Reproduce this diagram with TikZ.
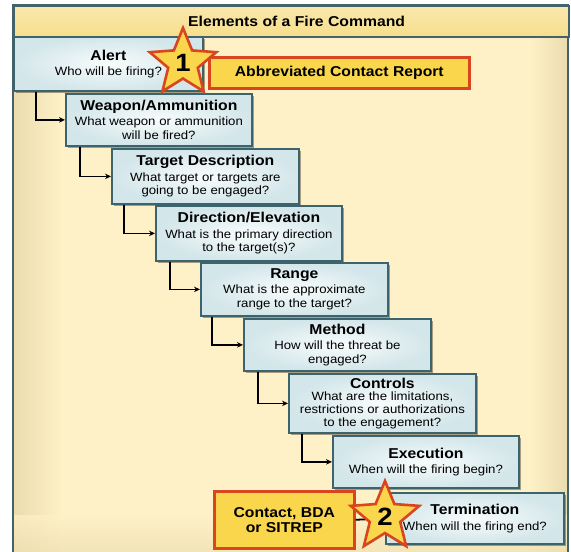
\documentclass[tikz,border=0pt]{standalone}
\usepackage{fontspec}
\setmainfont{Liberation Sans}[FakeStretch=1.1]
\usetikzlibrary{shapes.geometric,shadows,arrows.meta,calc}
\definecolor{frameC}{HTML}{43626B}
\definecolor{cream}{HTML}{FEF1C8}
\definecolor{creamD}{HTML}{EADCAC}
\definecolor{barC}{HTML}{F6DE8A}
\definecolor{boxIn}{HTML}{F8FCFC}
\definecolor{boxOut}{HTML}{D3E6EA}
\definecolor{boxLine}{HTML}{3D636C}
\definecolor{yel}{HTML}{F9D64C}
\definecolor{redO}{HTML}{D8451E}
\newcommand{\ttl}[1]{{\fontsize{14.3}{16}\selectfont\bfseries #1}}
\begin{document}
\begin{tikzpicture}[x=1pt,y=-1pt,
  box/.style={rectangle, draw=boxLine, line width=1.8pt, inner color=boxIn, outer color=boxOut,
    anchor=north west, align=center, inner sep=2pt,
    font=\fontsize{12}{13.6}\selectfont,
    drop shadow={shadow xshift=2pt, shadow yshift=-2pt, opacity=0.35, fill=black}},
  ybox/.style={rectangle, draw=redO, line width=2.6pt, fill=yel, anchor=north west,
    align=center, inner sep=2pt, font=\fontsize{14.3}{15}\selectfont\bfseries,
    drop shadow={shadow xshift=1.5pt, shadow yshift=-1.5pt, opacity=0.3, fill=black}},
  starn/.style={star, star points=5, star point ratio=2.25, minimum size=70pt, inner sep=0pt,
    fill=yel, draw=redO, line width=2.6pt, font=\fontsize{25}{25}\selectfont\bfseries},
  arr/.style={line width=1.8pt, black, -{Stealth[length=6pt,width=5.5pt]}}
]
\useasboundingbox (0,0) rectangle (571,552);
% frame background
\fill[cream] (13,5) rectangle (568,560);
\shade[left color=creamD, right color=cream] (14,36) rectangle (62,560);
\shade[left color=cream, right color=creamD] (530,36) rectangle (567,560);
\shade[top color=cream, bottom color=creamD, opacity=0.7] (14,515) rectangle (567,560);
\draw[frameC, line width=2.5pt] (13,5) rectangle (568,560);
% title bar
\node[rectangle, draw=frameC, line width=2.2pt, top color=barC!70!white, bottom color=barC,
  minimum width=555pt, minimum height=31pt, anchor=north west, inner sep=0pt,
  font=\fontsize{14.3}{16}\selectfont\bfseries] (title) at (13,5) {\hspace{10pt}Elements of a Fire Command};
% steps
\node[box, minimum width=189pt, minimum height=54pt] (alert) at (13,36)
  {\ttl{Alert}\\[1pt] Who will be firing?};
\node[box, minimum width=186pt, minimum height=52pt] (weapon) at (65,93)
  {\ttl{Weapon/Ammunition}\\[1.5pt] What weapon or ammunition\\ will be fired?};
\node[box, minimum width=187pt, minimum height=55pt] (target) at (111,148)
  {\ttl{Target Description}\\[1.5pt] What target or targets are\\ going to be engaged?};
\node[box, minimum width=186pt, minimum height=55pt] (direction) at (155,205)
  {\ttl{Direction/Elevation}\\[1.5pt] What is the primary direction\\ to the target(s)?};
\node[box, minimum width=187pt, minimum height=53pt] (range) at (200,262)
  {\ttl{Range}\\[1.5pt] What is the approximate\\ range to the target?};
\node[box, minimum width=187pt, minimum height=52pt] (method) at (243,318)
  {\ttl{Method}\\[1.5pt] How will the threat be\\ engaged?};
\node[box, minimum width=187pt, minimum height=59pt, font=\fontsize{12}{12.8}\selectfont] (controls) at (288,373)
  {\ttl{Controls}\\ What are the limitations,\\ restrictions or authorizations\\ to the engagement?};
\node[box, minimum width=186pt, minimum height=52pt] (execution) at (332,435)
  {\ttl{Execution}\\[2pt] When will the firing begin?};
\node[box, minimum width=178pt, minimum height=51pt] (termination) at (385,492)
  {\ttl{Termination}\\[2pt] When will the firing end?};
% connectors
\draw[arr] ([xshift=-29pt]weapon.west |- alert.south) |- (weapon.west);
\draw[arr] ([xshift=-31pt]target.west |- weapon.south) |- (target.west);
\draw[arr] ([xshift=-31pt]direction.west |- target.south) |- (direction.west);
\draw[arr] ([xshift=-30pt]range.west |- direction.south) |- (range.west);
\draw[arr] ([xshift=-31pt]method.west |- range.south) |- (method.west);
\draw[arr] ([xshift=-30pt]controls.west |- method.south) |- (controls.west);
\draw[arr] ([xshift=-30pt]execution.west |- controls.south) |- (execution.west);
% report boxes
\node[ybox, minimum width=260pt, minimum height=31pt] (acr) at (208,56) {Abbreviated Contact Report};
\node[ybox, minimum width=140pt, minimum height=57pt] (contact) at (213,490) {Contact, BDA\\ or SITREP};
\draw[line width=1.8pt] (contact.east) -- (termination.west);
% stars
\node[starn] (s1) at (183,63) {1};
\node[starn, minimum size=72pt] (s2) at (385,517) {2};
\end{tikzpicture}
\end{document}
